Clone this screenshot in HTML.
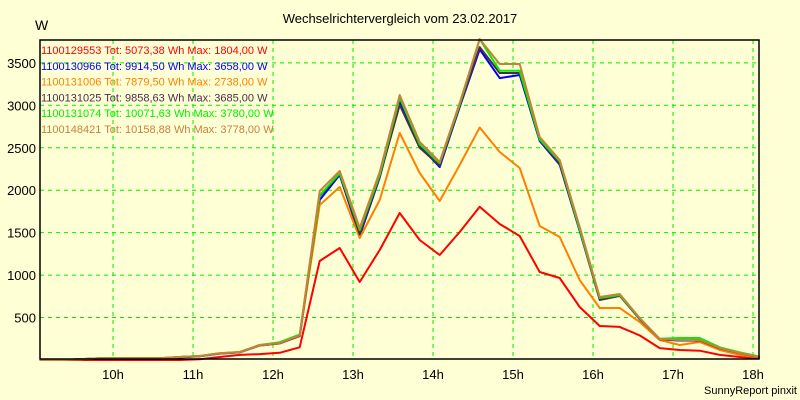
<!DOCTYPE html>
<html><head><meta charset="utf-8"><style>
html,body{margin:0;padding:0;background:#ffffd6;}
svg{display:block;font-family:"Liberation Sans",sans-serif;}
</style></head><body>
<svg id="chart" width="800" height="400" viewBox="0 0 800 400">
<rect x="0" y="0" width="800" height="400" fill="#ffffd6"/>
<text x="400" y="23" text-anchor="middle" font-size="13" fill="#000">Wechselrichtervergleich vom 23.02.2017</text>
<text x="35" y="30" font-size="14" fill="#000">W</text>
<text x="797" y="394" text-anchor="end" font-size="11" fill="#000">SunnyReport pinxit</text>
<g id="grid"></g>
<g id="series"></g>
<rect x="40" y="40" width="719" height="319" fill="none" stroke="#000" stroke-width="1.5"/>
<g id="legend"></g>
</svg>
<script>
const times = [];
for (let k = 0; k < 37; k++) times.push(9 + 5/60 + k*0.25);
const xTickHours = [10,11,12,13,14,15,16,17,18];
const xTickLabels = ["10h","11h","12h","13h","14h","15h","16h","17h","18h"];
const yTicks = [500,1000,1500,2000,2500,3000,3500];
const seriesNames = ["1100129553 Tot: 5073,38 Wh Max: 1804,00 W","1100130966 Tot: 9914,50 Wh Max: 3658,00 W","1100131006 Tot: 7879,50 Wh Max: 2738,00 W","1100131025 Tot: 9858,63 Wh Max: 3685,00 W","1100131074 Tot: 10071,63 Wh Max: 3780,00 W","1100148421 Tot: 10158,88 Wh Max: 3778,00 W"];
const seriesColors = ["#ff0000","#0000ff","#ff8000","#4c2c4c","#00ee00","#c8803c"];
const red = [0,0,0,0,0,0,0,0,10,35,60,70,85,150,1166,1319,919,1296,1731,1413,1237,1508,1804,1602,1460,1037,966,624,400,390,290,140,118,110,60,35,20];
const blue = [0,0,10,15,15,15,15,30,45,75,90,170,195,280,1885,2180,1460,2150,3040,2520,2273,2980,3658,3320,3357,2580,2300,1520,720,760,480,240,230,230,135,80,30];
const orange = [0,0,10,20,20,20,20,35,47,78,92,170,195,280,1826,2038,1437,1885,2674,2203,1873,2297,2738,2450,2261,1578,1449,942,612,612,447,235,177,212,118,60,30];
const dark = [0,0,10,20,20,20,20,35,45,78,92,175,198,285,1930,2190,1480,2160,3003,2500,2290,2990,3685,3380,3380,2590,2310,1530,707,755,485,245,232,232,138,80,32];
const green = [0,0,10,20,20,20,20,35,47,80,94,177,210,300,1940,2200,1530,2180,3090,2540,2320,3010,3780,3407,3407,2600,2340,1540,730,765,490,250,259,259,150,90,40];
const brown = [0,0,10,20,20,20,20,35,47,80,94,177,200,290,1990,2226,1555,2214,3121,2568,2332,3027,3778,3486,3486,2627,2356,1567,742,777,495,247,235,235,141,82,35];
const seriesData = [red,blue,orange,dark,green,brown];

const NS = "http://www.w3.org/2000/svg";
function xPos(t){ return 353 + (t - 13) * 80; }
function yPos(v){ return 360 - v * 0.0849; }

const grid = document.getElementById("grid");
const svg = document.getElementById("chart");
yTicks.forEach(v => {
  const l = document.createElementNS(NS,"line");
  
  
  l.setAttribute("x1",40); l.setAttribute("x2",759);
  l.setAttribute("y1",yPos(v)); l.setAttribute("y2",yPos(v));
  l.setAttribute("stroke","#00ee00"); l.setAttribute("stroke-dasharray","4,4");
  grid.appendChild(l);
  const t = document.createElementNS(NS,"text");
  
  
  t.setAttribute("x",36); t.setAttribute("y",yPos(v)+5);
  t.setAttribute("text-anchor","end"); t.setAttribute("font-size","13");
  t.textContent = v;
  grid.appendChild(t);
});
xTickHours.forEach((h,i) => {
  const l = document.createElementNS(NS,"line");
  
  
  l.setAttribute("x1",xPos(h)); l.setAttribute("x2",xPos(h));
  l.setAttribute("y1",40); l.setAttribute("y2",359);
  l.setAttribute("stroke","#00ee00"); l.setAttribute("stroke-dasharray","4,4");
  grid.appendChild(l);
  const t = document.createElementNS(NS,"text");
  
  
  t.setAttribute("x",xPos(h)); t.setAttribute("y",379);
  t.setAttribute("text-anchor","middle"); t.setAttribute("font-size","13");
  t.textContent = xTickLabels[i];
  grid.appendChild(t);
});
const sg = document.getElementById("series");
seriesData.forEach((arr,si) => {
  const p = document.createElementNS(NS,"polyline");
  
  
  p.setAttribute("points", arr.map((v,i)=>xPos(times[i]).toFixed(1)+","+yPos(v).toFixed(1)).join(" "));
  p.setAttribute("fill","none"); p.setAttribute("stroke",seriesColors[si]);
  p.setAttribute("stroke-width","2"); p.setAttribute("stroke-linejoin","round");
  sg.appendChild(p);
});
const lg = document.getElementById("legend");
seriesNames.forEach((n,i) => {
  const t = document.createElementNS(NS,"text");
  
  
  t.setAttribute("x",41); t.setAttribute("y",54 + i*15.8);
  t.setAttribute("font-size","11"); t.setAttribute("fill",seriesColors[i]);
  t.textContent = n;
  lg.appendChild(t);
});
</script>
</body></html>
